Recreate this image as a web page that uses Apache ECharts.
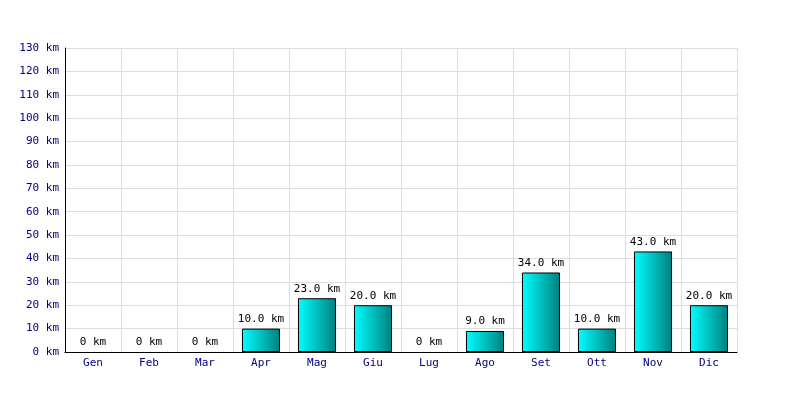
<!DOCTYPE html>
<html><head><meta charset="utf-8">
<script src="https://cdn.jsdelivr.net/npm/echarts@6/dist/echarts.min.js"></script>
<style>html,body{margin:0;padding:0;background:#fff}#c{width:800px;height:400px}</style>
</head><body><div id="c"></div>
<script>
const categories = ['Gen','Feb','Mar','Apr','Mag','Giu','Lug','Ago','Set','Ott','Nov','Dic'];
const values = [0,0,0,10,23,20,0,9,34,10,43,20];
const yMin = 0, yMax = 130, yStep = 10;
const unit = 'km';
const font = 'DejaVu Sans Mono';
const chart = echarts.init(document.getElementById('c'), null, {renderer:'canvas'});
const seriesData = values.map(v => v === 0 ? {value:v, itemStyle:{borderWidth:0, opacity:0}, label:{opacity:1}} : {value:v});
chart.setOption({
  animation:false,
  backgroundColor:'#fff',
  grid:{left:65,right:63,top:48,bottom:48,containLabel:false},
  xAxis:{type:'category',data:categories,
    axisLine:{lineStyle:{color:'#000',width:1}},
    axisTick:{show:false},
    axisLabel:{color:'#000080',fontFamily:font,fontSize:11,margin:6},
    splitLine:{show:true,lineStyle:{color:'#dddddd',width:1}}},
  yAxis:{type:'value',min:yMin,max:yMax,interval:yStep,
    axisLine:{show:true,lineStyle:{color:'#000',width:1}},
    axisTick:{show:false},
    axisLabel:{color:'#000080',fontFamily:font,fontSize:11,margin:6,formatter:v=>v+' '+unit},
    splitLine:{show:true,lineStyle:{color:'#dddddd',width:1}}},
  series:[{type:'bar',data:seriesData,barWidth:'68%',
    itemStyle:{color:new echarts.graphic.LinearGradient(0,0,1,0,[{offset:0,color:'#00ffff'},{offset:1,color:'#008080'}]),
      borderColor:'#000',borderWidth:1},
    label:{show:true,position:'top',distance:4,color:'#000',fontFamily:font,fontSize:11,
      formatter:p=>p.value===0?('0 '+unit):(p.value.toFixed(1)+' '+unit)}}]
});
</script></body></html>
